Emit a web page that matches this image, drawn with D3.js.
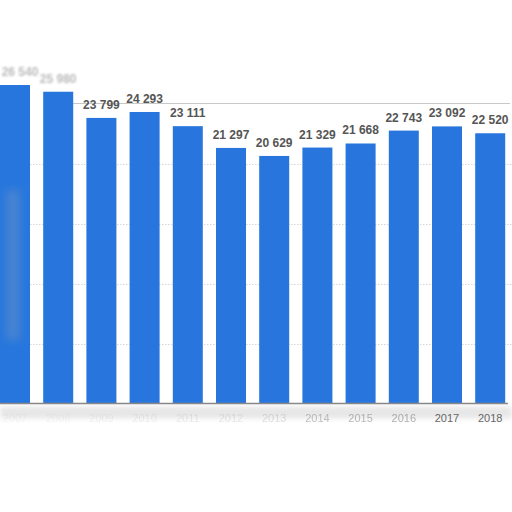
<!DOCTYPE html>
<html>
<head>
<meta charset="utf-8">
<script src="https://cdn.jsdelivr.net/npm/d3@7"></script>
<style>
  body { margin: 0; background: #fff; }
  svg { display: block; }
</style>
</head>
<body>
<svg id="chart" width="512" height="512"></svg>
<script>
//data
var years = ['2007', '2008', '2009', '2010', '2011', '2012', '2013', '2014', '2015', '2016', '2017', '2018'];
var values = [26540, 25980, 23799, 24293, 23111, 21297, 20629, 21329, 21668, 22743, 23092, 22520];
var gridTicks = [5000, 10000, 15000, 20000];
var topTick = 25000;
//how washed out each year label is (the picture smudges the older ones)
var yearFade = [0.06, 0.06, 0.08, 0.1, 0.12, 0.15, 0.2, 0.4, 0.45, 0.5, 1, 1];

var svg = d3.select('#chart');
var barColor = '#2876dd';

var numFormat = d3.formatLocale({ decimal: '.', thousands: ' ', grouping: [3], currency: ['', ''] }).format(',');

//scales
var x = d3.scaleBand()
  .domain(years)
  .range([-6.6, 511.8])
  .paddingInner(0.3056)
  .paddingOuter(0.1528);

var y = d3.scaleLinear()
  .domain([0, topTick])
  .range([403.5, 103.5]);

//blur filters
var defs = svg.append('defs');
[0.6, 1.2, 2.5, 5].forEach(function(s, i) {
  defs.append('filter')
    .attr('id', 'blur' + i)
    .attr('x', '-50%').attr('y', '-50%')
    .attr('width', '200%').attr('height', '200%')
    .append('feGaussianBlur')
    .attr('stdDeviation', s);
});

//gridlines
svg.append('g')
  .attr('class', 'grid')
  .selectAll('line')
  .data(gridTicks)
  .join('line')
  .attr('x1', 0)
  .attr('x2', 512)
  .attr('y1', function(d) { return Math.round(y(d)) + 0.5; })
  .attr('y2', function(d) { return Math.round(y(d)) + 0.5; })
  .attr('stroke', '#d6d6d6')
  .attr('stroke-dasharray', '1.5,1.5');

//top line with shadow
svg.append('line')
  .attr('x1', 70).attr('x2', 510)
  .attr('y1', y(topTick) + 1).attr('y2', y(topTick) + 1)
  .attr('stroke', '#999')
  .attr('stroke-width', 2.5)
  .attr('opacity', 0.5)
  .attr('filter', 'url(#blur1)');
svg.append('line')
  .attr('x1', 70).attr('x2', 510)
  .attr('y1', y(topTick)).attr('y2', y(topTick))
  .attr('stroke', '#c8c8c8')
  .attr('stroke-width', 1.2);

//bars
svg.append('g')
  .attr('class', 'bars')
  .selectAll('rect')
  .data(values)
  .join('rect')
  .attr('x', function(d, i) { return x(years[i]); })
  .attr('y', function(d) { return y(d); })
  .attr('width', x.bandwidth())
  .attr('height', function(d) { return y(0) - y(d); })
  .attr('fill', barColor)
  .attr('filter', function(d, i) { return i == 0 ? 'url(#blur0)' : null; });

//smudge on the first bar
svg.append('rect')
  .attr('x', x(years[0]) + 6)
  .attr('y', 190)
  .attr('width', x.bandwidth() - 16)
  .attr('height', 150)
  .attr('fill', '#9aa6b8')
  .attr('opacity', 0.3)
  .attr('filter', 'url(#blur3)');

//value labels
svg.append('g')
  .attr('class', 'value-labels')
  .selectAll('text')
  .data(values)
  .join('text')
  .attr('x', function(d, i) { return Math.max(x(years[i]) + x.bandwidth() / 2, 20); })
  .attr('y', function(d) { return y(d) - 9; })
  .attr('text-anchor', 'middle')
  .attr('font-family', 'Liberation Sans, Arial, sans-serif')
  .attr('font-weight', 'bold')
  .attr('font-size', '12px')
  .attr('fill', function(d, i) { return i < 2 ? '#bbb' : '#555'; })
  .attr('filter', function(d, i) { return i < 2 ? 'url(#blur1)' : null; })
  .text(function(d) { return numFormat(d); });

//baseline shadow
svg.append('rect')
  .attr('x', 0).attr('y', y(0) + 3)
  .attr('width', 512).attr('height', 12)
  .attr('fill', '#bbb')
  .attr('opacity', 0.35)
  .attr('filter', 'url(#blur2)');

//baseline
svg.append('line')
  .attr('x1', 0).attr('x2', 508)
  .attr('y1', y(0)).attr('y2', y(0))
  .attr('stroke', '#888')
  .attr('stroke-width', 1.5);

//year labels
svg.append('g')
  .attr('class', 'year-labels')
  .selectAll('text')
  .data(years)
  .join('text')
  .attr('x', function(d) { return x(d) + x.bandwidth() / 2; })
  .attr('y', 422)
  .attr('text-anchor', 'middle')
  .attr('font-family', 'Liberation Sans, Arial, sans-serif')
  .attr('font-size', '11px')
  .attr('fill', '#666')
  .attr('opacity', function(d, i) { return yearFade[i]; })
  .attr('filter', function(d, i) { return yearFade[i] < 1 ? 'url(#blur0)' : null; })
  .text(function(d) { return d; });
</script>
</body>
</html>
